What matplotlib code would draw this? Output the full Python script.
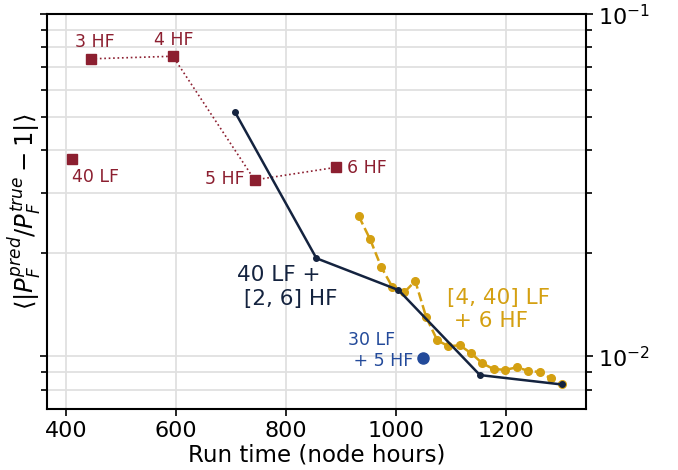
import matplotlib
matplotlib.use("Agg")
import matplotlib.pyplot as plt

# HF-only runs (red squares)
hf_x = [445.5, 594.3, 743.0, 891.0]
hf_y = [0.0741, 0.0754, 0.0328, 0.0357]
hf_labels = ["3 HF", "4 HF", "5 HF", "6 HF"]
lf40_x = 410.4
lf40_y = 0.0377

# 40 LF + [2, 6] HF
mf_x = [707.0, 855.4, 1004.7, 1152.8, 1301.6]
mf_y = [0.0519, 0.01936, 0.01563, 0.00882, 0.00828]

# [4, 40] LF + 6 HF
lf_x = [932.4, 953.2, 973.3, 993.3, 1015.1, 1035.2, 1055.2, 1075.3, 1095.3,
        1116.5, 1137.3, 1157.4, 1177.9, 1199.3, 1219.9, 1240.4, 1261.2,
        1281.2, 1301.6]
lf_y = [0.02571, 0.02198, 0.01825, 0.01598, 0.01539, 0.01661, 0.01300,
        0.01114, 0.01072, 0.01077, 0.01020, 0.00954, 0.00918, 0.00914,
        0.00929, 0.00908, 0.00900, 0.00864, 0.00828]

# 30 LF + 5 HF
single_x = 1050.0
single_y = 0.00989

red = "#8c1f30"
navy = "#14233f"
gold = "#d4a012"
blue = "#234a9a"

fig = plt.figure(figsize=(6.78, 4.70), dpi=100)
ax = fig.add_axes([0.0693, 0.1298, 0.795, 0.8398])

ax.grid(True, which="major", color="#e0e0e0", lw=1.3)
ax.grid(True, which="minor", axis="y", color="#e0e0e0", lw=1.3)
ax.set_axisbelow(True)

ax.plot(hf_x, hf_y, color=red, ls=":", lw=1.2, marker="s", ms=7)
ax.plot([lf40_x], [lf40_y], color=red, ls="none", marker="s", ms=7)
ax.plot(mf_x, mf_y, color=navy, lw=1.8, marker="o", ms=4)
ax.plot(lf_x, lf_y, color=gold, ls="--", lw=1.8, marker="o", ms=5.5,
        zorder=1.9)
ax.plot([single_x], [single_y], color=blue, ls="none", marker="o", ms=8)

ax.text(452.8, 0.0830, "3 HF", color=red, fontsize=12.5, ha="center", va="center")
ax.text(596.7, 0.0841, "4 HF", color=red, fontsize=12.5, ha="center", va="center")
ax.text(411.0, 0.0334, "40 LF", color=red, fontsize=12.5, ha="left", va="center")
ax.text(724.2, 0.0330, "5 HF", color=red, fontsize=12.5, ha="right", va="center")
ax.text(911.3, 0.0355, "6 HF", color=red, fontsize=12.5, ha="left", va="center")
ax.text(711.5, 0.01596, "40 LF +\n [2, 6] HF", color=navy, fontsize=15.5,
        ha="left", va="center", multialignment="left")
ax.text(1092.2, 0.01371, "[4, 40] LF\n + 6 HF", color=gold, fontsize=15.5,
        ha="left", va="center", multialignment="left")
ax.text(912.4, 0.01041, "30 LF\n + 5 HF", color=blue, fontsize=12.5,
        ha="left", va="center", multialignment="left")

ax.set_yscale("log")
ax.set_xlim(365.4, 1345.7)
ax.set_ylim(0.00702, 0.1)
ax.set_xticks([400, 600, 800, 1000, 1200])

ax.tick_params(axis="both", which="both", direction="out", labelsize=16,
               width=1.2)
ax.tick_params(axis="y", which="both", left=True, right=True,
               labelleft=False, labelright=True)
ax.tick_params(axis="y", which="major", length=5)
ax.tick_params(axis="y", which="minor", length=4)
ax.tick_params(axis="x", which="major", length=5, top=False)
for s in ax.spines.values():
    s.set_linewidth(1.5)

ax.set_xlabel("Run time (node hours)", fontsize=16.5, labelpad=2)
ax.set_ylabel(r"$\langle |P_F^{pred}/P_F^{true} - 1| \rangle$", fontsize=17.5)
ax.yaxis.set_label_coords(-0.008, 0.5)

fig.savefig("out.png", dpi=100)
